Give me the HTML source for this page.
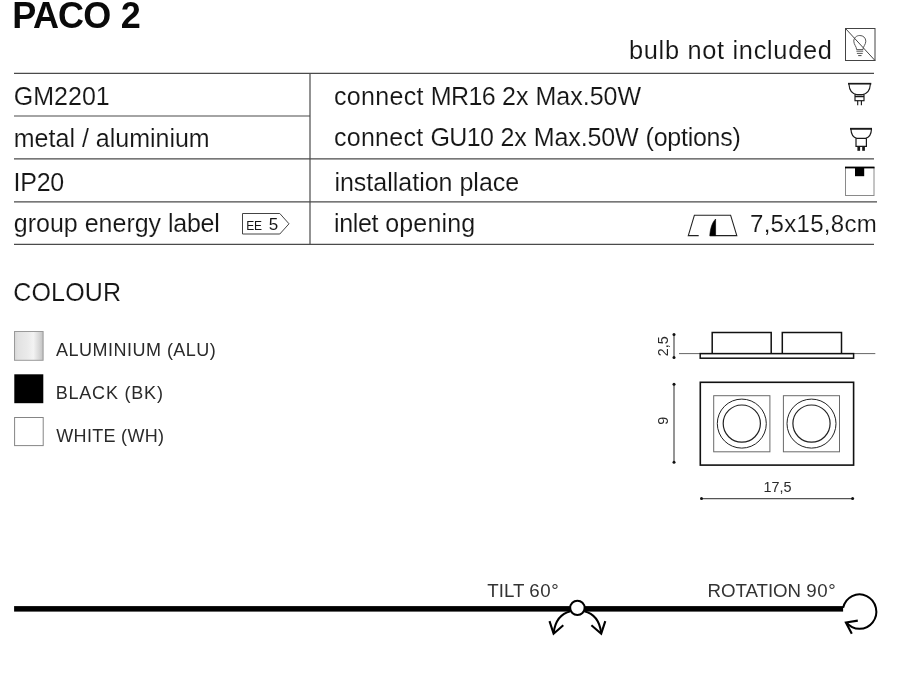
<!DOCTYPE html>
<html lang="en">
<head>
<meta charset="utf-8">
<title>PACO 2</title>
<style>
html,body{margin:0;padding:0;background:#fff;}
body{width:900px;height:675px;overflow:hidden;}
#page{position:absolute;left:0;top:0;width:900px;height:675px;overflow:hidden;background:#fff;will-change:transform;filter:blur(0.3px);font-family:"Liberation Sans",sans-serif;color:#161616;}
.t{position:absolute;white-space:nowrap;line-height:1;margin:0;padding:0;font-weight:normal;}
.b{font-size:25px;-webkit-text-stroke:0.12px #fff;}
.s{font-size:18px;color:#2a2a2a;}
svg{position:absolute;left:0;top:0;overflow:visible;}
</style>
</head>
<body>
<div id="page">
<h1 class="t" id="title" style="left:12.2px;top:-2px;font-size:36px;font-weight:bold;color:#0a0a0a;"><span style="letter-spacing:-3.2px">P</span><span style="letter-spacing:-1.1px">A</span><span style="letter-spacing:-0.7px">C</span><span style="letter-spacing:-0.55px">O</span> <span>2</span></h1>

<div class="t b" id="bulb" style="left:629px;top:38.4px;font-size:25.4px;letter-spacing:0.68px;">bulb not included</div>


<div class="t b" id="l1" style="left:13.8px;top:84px;">GM2201</div>
<div class="t b" id="l2" style="left:13.8px;top:126px;">metal / aluminium</div>
<div class="t b" id="l3" style="left:13.6px;top:170px;letter-spacing:-0.25px;">IP20</div>
<div class="t b" id="l4" style="left:13.8px;top:211px;">group energy <span style="letter-spacing:-0.3px">label</span></div>

<div class="t b" id="r1" style="left:333.9px;top:84px;"><span style="letter-spacing:0.35px">connect</span> <span style="letter-spacing:-0.6px">MR16</span> 2x Max.50W</div>
<div class="t b" id="r2" style="left:333.9px;top:125px;"><span style="letter-spacing:0.3px">connect</span> <span style="letter-spacing:-0.6px">GU10</span> 2x <span style="letter-spacing:-0.1px">Max.50W</span> <span style="letter-spacing:-0.25px">(options)</span></div>
<div class="t b" id="r3" style="left:334.4px;top:170px;">installation place</div>
<div class="t b" id="r4" style="left:333.9px;top:211px;"><span style="letter-spacing:-0.3px">inlet</span> <span style="letter-spacing:0.15px">opening</span></div>
<div class="t b" id="r5" style="left:750px;top:212px;font-size:24px;letter-spacing:0.3px;">7,5x15,8cm</div>

<div class="t" id="ee" style="left:246.3px;top:220px;font-size:12px;letter-spacing:-0.3px;">EE</div>
<div class="t" id="e5" style="left:268.8px;top:216px;font-size:17px;">5</div>

<h2 class="t b" id="colour" style="left:13.2px;top:280px;letter-spacing:0.2px;">COLOUR</h2>


<div class="t s" id="c1" style="left:56.1px;top:341px;letter-spacing:0.48px;">ALUMINIUM (ALU)</div>
<div class="t s" id="c2" style="left:55.7px;top:384px;letter-spacing:0.8px;">BLACK (BK)</div>
<div class="t s" id="c3" style="left:56.3px;top:427px;letter-spacing:0.3px;">WHITE (WH)</div>

<div class="t s" id="tilt" style="left:487.3px;top:582px;font-size:18.7px;color:#333;"><span style="letter-spacing:0px">TILT</span> <span style="letter-spacing:0.6px">60°</span></div>
<div class="t s" id="rot" style="left:707.6px;top:582px;font-size:18.7px;color:#333;"><span style="letter-spacing:-0.05px">ROTATION</span> <span style="letter-spacing:0.7px">90°</span></div>

<svg id="art" width="900" height="675" viewBox="0 0 900 675" font-family="'Liberation Sans', sans-serif">
  <defs>
    <linearGradient id="alu" x1="0" y1="0" x2="1" y2="0">
      <stop offset="0" stop-color="#d6d6d6"/>
      <stop offset="0.12" stop-color="#e2e2e2"/>
      <stop offset="0.45" stop-color="#eaeaea"/>
      <stop offset="0.66" stop-color="#f3f3f3"/>
      <stop offset="0.85" stop-color="#d9d9d9"/>
      <stop offset="1" stop-color="#c2c2c2"/>
    </linearGradient>
  </defs>
  <!-- colour swatches -->
  <rect x="14.5" y="331.5" width="28.6" height="28.8" fill="url(#alu)" stroke="#9a9a9a" stroke-width="1"/>
  <rect x="14.3" y="374.3" width="29" height="28.9" fill="#000"/>
  <rect x="14.6" y="417.5" width="28.6" height="28.1" fill="#fff" stroke="#858585" stroke-width="1"/>
  <!-- table rules -->
  <g stroke="#4a4a4a" stroke-width="1.2" fill="none">
    <line x1="14" y1="73.35" x2="874" y2="73.35"/>
    <line x1="14" y1="116" x2="310" y2="116"/>
    <line x1="14" y1="158.9" x2="874" y2="158.9"/>
    <line x1="14" y1="201.8" x2="877" y2="201.8"/>
    <line x1="14" y1="244.35" x2="874" y2="244.35"/>
    <line x1="310" y1="73.3" x2="310" y2="244.9"/>
  </g>
  <!-- bulb not included icon -->
  <g fill="none" stroke="#444" stroke-width="1">
    <rect x="845.5" y="28.5" width="29.5" height="32"/>
    <line x1="845.5" y1="28.5" x2="875" y2="60.5"/>
    <path d="M856.6 49.6 C856.6 46.5 853.8 44.6 853.8 41.2 C853.8 37.8 856.4 35.5 859.8 35.5 C863.2 35.5 865.8 37.8 865.8 41.2 C865.8 44.6 863 46.5 863 49.6 Z" stroke-width="0.9"/>
    <line x1="856.4" y1="51.2" x2="863.2" y2="51.2" stroke-width="0.9"/>
    <line x1="856.9" y1="53.4" x2="862.7" y2="53.4" stroke-width="0.9"/>
    <line x1="858.2" y1="55.6" x2="861.5" y2="55.6" stroke-width="1"/>
  </g>
  <!-- MR16 -->
  <g fill="none" stroke="#1a1a1a" stroke-width="1.15">
    <line x1="848" y1="83.7" x2="871.3" y2="83.7" stroke-width="1.7"/>
    <path d="M848.9 84 C849.3 90.5 852.5 94.3 857.5 94.7 L861.8 94.7 C866.8 94.3 870 90.5 870.4 84"/>
    <rect x="855" y="94.7" width="9" height="6"/>
    <line x1="855" y1="96.6" x2="864" y2="96.6" stroke-width="1.3"/>
    <line x1="857.7" y1="100.7" x2="857.7" y2="105.2"/>
    <line x1="861.4" y1="100.7" x2="861.4" y2="105.2"/>
  </g>
  <!-- GU10 -->
  <g fill="none" stroke="#1a1a1a" stroke-width="1.2">
    <line x1="850" y1="128.8" x2="872" y2="128.8" stroke-width="1.9"/>
    <path d="M850.9 129 C851.2 134.5 853.3 137.6 856.8 138.3 L865.6 138.3 C869.1 137.6 871.2 134.5 871.5 129"/>
    <path d="M856 138.3 L856 146.3 L866.4 146.3 L866.4 138.3"/>
    <rect x="857.4" y="146.8" width="2.7" height="4" fill="#1a1a1a" stroke="none"/>
    <rect x="862.2" y="146.8" width="2.7" height="4" fill="#1a1a1a" stroke="none"/>
  </g>
  <!-- installation place -->
  <g>
    <rect x="845.5" y="167.5" width="28.5" height="28" fill="none" stroke="#8a8a8a" stroke-width="1"/>
    <line x1="845" y1="167.5" x2="874.5" y2="167.5" stroke="#000" stroke-width="1.8"/>
    <rect x="855" y="167" width="9.2" height="9.2" fill="#000"/>
  </g>
  <!-- inlet opening -->
  <g fill="none" stroke="#222" stroke-width="1.1">
    <path d="M698.7 235.6 L688.3 235.6 L694.4 215.2 L730.6 215.2 L736.8 235.6 L709.8 235.6"/>
    <path d="M715.6 219 L715.6 235.6 L709.8 235.6 C710.3 228 712.3 222.5 715.6 219 Z" fill="#000" stroke="#000" stroke-width="0.6"/>
  </g>
  <!-- energy label -->
  <path d="M242.5 213.5 L279.8 213.5 L289 223.8 L279.8 234 L242.5 234 Z" fill="none" stroke="#444" stroke-width="1"/>

  <!-- drawing: side view -->
  <g fill="none" stroke="#111" stroke-width="1.5">
    <line x1="679" y1="353.6" x2="875.3" y2="353.6" stroke="#555" stroke-width="0.9"/>
    <path d="M712.2 353.6 L712.2 332.4 L771.2 332.4 L771.2 353.6"/>
    <path d="M782.3 353.6 L782.3 332.4 L841.5 332.4 L841.5 353.6"/>
    <rect x="700.2" y="353.6" width="153.4" height="4.6"/>
    <!-- top view -->
    <rect x="700.3" y="382.3" width="153.3" height="82.8" stroke-width="1.6"/>
    <rect x="713.7" y="395.7" width="56.2" height="56.1" stroke="#6a6a6a" stroke-width="1"/>
    <rect x="783.4" y="395.7" width="56.1" height="56.1" stroke="#6a6a6a" stroke-width="1"/>
    <circle cx="741.8" cy="423.6" r="24.5" stroke="#222" stroke-width="1"/>
    <circle cx="741.8" cy="423.6" r="18.6" stroke="#222" stroke-width="1.2"/>
    <circle cx="811.5" cy="423.6" r="24.5" stroke="#222" stroke-width="1"/>
    <circle cx="811.5" cy="423.6" r="18.6" stroke="#222" stroke-width="1.2"/>
  </g>
  <!-- dimensions -->
  <g stroke="#555" stroke-width="1.25" fill="#111">
    <line x1="674" y1="334.5" x2="674" y2="357.5"/>
    <circle cx="674" cy="334.5" r="1.5" stroke="none"/>
    <circle cx="674" cy="357.5" r="1.5" stroke="none"/>
    <line x1="674" y1="384.3" x2="674" y2="462.2"/>
    <circle cx="674" cy="384.3" r="1.5" stroke="none"/>
    <circle cx="674" cy="462.2" r="1.5" stroke="none"/>
    <line x1="701.5" y1="498.6" x2="852.6" y2="498.6"/>
    <circle cx="701.5" cy="498.6" r="1.5" stroke="none"/>
    <circle cx="852.6" cy="498.6" r="1.5" stroke="none"/>
  </g>
  <g fill="#2a2a2a" font-size="14.4" text-anchor="middle">
    <text id="d25" transform="translate(667.6 346.2) rotate(-90)">2,5</text>
    <text id="d9" transform="translate(667.6 420.8) rotate(-90)">9</text>
    <text id="d175" x="777.6" y="491.8">17,5</text>
  </g>

  <!-- tilt / rotation bar -->
  <rect x="14.1" y="606.1" width="829" height="5.5" fill="#000"/>
  <g fill="none" stroke="#000" stroke-width="2.1" stroke-linejoin="miter">
    <path d="M570.5 611.3 C561.5 613.5 555.3 620.5 553.7 632.5"/>
    <path d="M549.5 621.2 L553.6 633.7 L563.3 625.2"/>
    <path d="M584.3 611.3 C593.3 613.5 599.5 620.5 601.1 632.5"/>
    <path d="M591.4 625.2 L601.2 633.7 L605.3 621.2"/>
    <circle cx="577.4" cy="607.9" r="7.2" fill="#fff" stroke-width="2"/>
    <path d="M843.1 607.9 A16.8 17.2 0 1 1 846.4 622.4" stroke-width="2"/>
    <path d="M857.8 620.6 L845.9 622.5 L851.8 633.8"/>
  </g>
</svg>
</div>
</body>
</html>
